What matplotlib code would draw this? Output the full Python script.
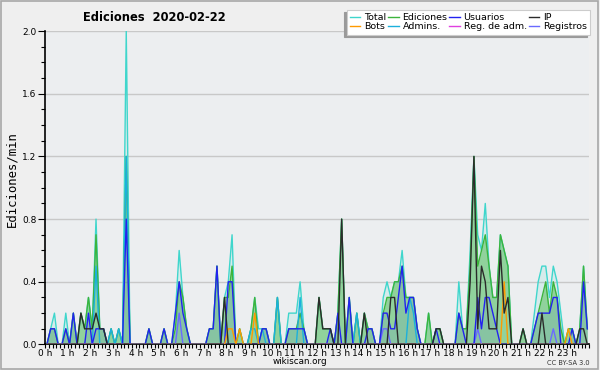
import numpy as np
import matplotlib
matplotlib.use("Agg")
import matplotlib.pyplot as plt
from matplotlib.patches import Rectangle
from matplotlib.ticker import MultipleLocator, FixedLocator

# 10-minute bins, 6 per hour (edits per minute)
total = [
    0, 0.1, 0.2, 0, 0, 0.2,     0, 0.2, 0, 0.2, 0.1, 0.3,
    0.1, 0.8, 0.1, 0.1, 0, 0.1, 0, 0.1, 0, 2.0, 0, 0,
    0, 0, 0, 0.1, 0, 0,         0, 0.1, 0, 0, 0.2, 0.6,
    0.3, 0.1, 0, 0, 0, 0,       0, 0.1, 0.1, 0.5, 0, 0.3,
    0.4, 0.7, 0, 0.1, 0, 0,     0.1, 0.3, 0.1, 0.1, 0.1, 0,
    0, 0.3, 0, 0, 0.2, 0.2,     0.2, 0.4, 0.1, 0, 0, 0,
    0.3, 0.1, 0.1, 0.1, 0, 0.2, 0.8, 0, 0.3, 0, 0.2, 0,
    0.2, 0.1, 0.1, 0, 0, 0.3,   0.4, 0.3, 0.4, 0.4, 0.6, 0.3,
    0.3, 0.3, 0.1, 0, 0, 0.2,   0, 0.1, 0.1, 0, 0, 0,
    0, 0.4, 0.1, 0.1, 0.6, 1.2, 0.7, 0.6, 0.9, 0.5, 0.3, 0.3,
    0.7, 0.6, 0.5, 0, 0, 0,     0.1, 0, 0, 0.2, 0.4, 0.5,
    0.5, 0.3, 0.5, 0.4, 0.2, 0, 0.1, 0.1, 0, 0.1, 0.5, 0.1,
]
ediciones = [
    0, 0.1, 0.1, 0, 0, 0.1,     0, 0.2, 0, 0.2, 0.1, 0.3,
    0.1, 0.7, 0.1, 0.1, 0, 0.1, 0, 0.1, 0, 1.2, 0, 0,
    0, 0, 0, 0.1, 0, 0,         0, 0.1, 0, 0, 0.1, 0.4,
    0.3, 0.1, 0, 0, 0, 0,       0, 0.1, 0.1, 0.5, 0, 0.3,
    0.3, 0.5, 0, 0.1, 0, 0,     0.1, 0.3, 0, 0.1, 0.1, 0,
    0, 0.3, 0, 0, 0.1, 0.1,     0.1, 0.2, 0.1, 0, 0, 0,
    0.3, 0.1, 0.1, 0.1, 0, 0.2, 0.8, 0, 0.3, 0, 0.2, 0,
    0.2, 0.1, 0.1, 0, 0, 0.2,   0.3, 0.3, 0.4, 0.4, 0.5, 0.3,
    0.3, 0.3, 0.1, 0, 0, 0.2,   0, 0.1, 0.1, 0, 0, 0,
    0, 0.2, 0.1, 0.1, 0.5, 1.2, 0.5, 0.6, 0.7, 0.5, 0.3, 0.3,
    0.7, 0.6, 0.5, 0, 0, 0,     0.1, 0, 0, 0.1, 0.2, 0.3,
    0.4, 0.2, 0.4, 0.3, 0.1, 0, 0.1, 0.1, 0, 0.1, 0.5, 0.1,
]
usuarios = [
    0, 0.1, 0.1, 0, 0, 0.1,     0, 0.2, 0, 0, 0, 0.2,
    0, 0.1, 0.1, 0.1, 0, 0,     0, 0, 0, 0.8, 0, 0,
    0, 0, 0, 0.1, 0, 0,         0, 0.1, 0, 0, 0.2, 0.4,
    0.2, 0.1, 0, 0, 0, 0,       0, 0.1, 0.1, 0.5, 0, 0,
    0.4, 0.4, 0, 0, 0, 0,       0, 0, 0, 0.1, 0.1, 0,
    0, 0, 0, 0, 0.1, 0.1,       0.1, 0.1, 0.1, 0, 0, 0,
    0, 0, 0, 0.1, 0, 0.2,       0, 0, 0.3, 0, 0, 0,
    0, 0.1, 0.1, 0, 0, 0.2,     0.2, 0.1, 0.1, 0.3, 0.5, 0.2,
    0.3, 0.3, 0.1, 0, 0, 0,     0, 0.1, 0, 0, 0, 0,
    0, 0.2, 0.1, 0, 0, 0,       0.3, 0.1, 0.3, 0.3, 0.2, 0.1,
    0, 0, 0, 0, 0, 0,           0, 0, 0, 0.1, 0.2, 0.2,
    0.2, 0.2, 0.3, 0.3, 0, 0,   0, 0.1, 0, 0, 0.4, 0.1,
]
ip = [
    0, 0, 0, 0, 0, 0,           0, 0, 0, 0.2, 0.1, 0.1,
    0.1, 0.2, 0.1, 0.1, 0, 0,   0, 0, 0, 0, 0, 0,
    0, 0, 0, 0, 0, 0,           0, 0, 0, 0, 0, 0,
    0, 0, 0, 0, 0, 0,           0, 0, 0, 0, 0, 0.3,
    0, 0, 0, 0, 0, 0,           0, 0, 0, 0, 0, 0,
    0, 0, 0, 0, 0, 0,           0, 0, 0, 0, 0, 0,
    0.3, 0.1, 0.1, 0.1, 0, 0,   0.8, 0, 0, 0, 0, 0,
    0.2, 0, 0, 0, 0, 0,         0, 0.3, 0.3, 0, 0, 0,
    0, 0, 0, 0, 0, 0,           0, 0.1, 0.1, 0, 0, 0,
    0, 0, 0, 0, 0.4, 1.2,       0.1, 0.5, 0.4, 0.1, 0.1, 0.1,
    0.6, 0.2, 0.3, 0, 0, 0,     0.1, 0, 0, 0, 0, 0.2,
    0, 0, 0, 0, 0, 0,           0, 0, 0, 0.1, 0.1, 0,
]
bots = [0.0] * 144
for i, v in [(48, 0.1), (49, 0.1), (51, 0.1), (55, 0.2), (121, 0.4), (138, 0.1)]:
    bots[i] = v
admins = [0.0] * 144
for i, v in [(13, 0.5), (17, 0.1), (19, 0.1), (21, 1.2), (54, 0.1), (55, 0.1),
             (57, 0.1), (61, 0.3), (67, 0.3), (82, 0.2), (96, 0.3), (97, 0.2)]:
    admins[i] = v
reg_adm = [0.0] * 144
registros = [0.0] * 144
for i, v in [(35, 0.2), (89, 0.1), (90, 0.1), (134, 0.1), (114, 0.1)]:
    registros[i] = v

hour_labels = [f"{h} h" for h in range(24)]

names = ["Total", "Bots", "Ediciones", "Admins.", "Usuarios", "Reg. de adm.", "IP", "Registros"]
colors = {
    "Total": "#3fd6cc", "Ediciones": "#3cb43c", "Usuarios": "#2222f0", "IP": "#2b2b2b",
    "Bots": "#ff9a00", "Admins.": "#1cb0dc", "Reg. de adm.": "#e040e0", "Registros": "#6a6aff",
}
series = {
    "Total": total, "Ediciones": ediciones, "Usuarios": usuarios, "IP": ip,
    "Bots": bots, "Admins.": admins, "Reg. de adm.": reg_adm, "Registros": registros,
}

x = (np.arange(144) + 0.5) / 6.0

fig = plt.figure(figsize=(6, 3.7), dpi=100, facecolor="#efefef")
ax = fig.add_axes([0.075, 0.069, 0.907, 0.847])
ax.set_facecolor("#eceef0")

fig.patches.append(Rectangle((0.002, 0.003), 0.995, 0.993, transform=fig.transFigure,
                             fill=False, edgecolor="#a8a8a8", lw=1.2))

ax.fill_between(x, total, color=colors["Total"], alpha=0.12, lw=0)
ax.fill_between(x, ediciones, color=colors["Ediciones"], alpha=0.45, lw=0)
ax.fill_between(x, usuarios, color=colors["Usuarios"], alpha=0.08, lw=0)

handles = {}
for n in ["Total", "Ediciones", "Registros", "Admins.", "Usuarios", "Reg. de adm.", "Bots", "IP"]:
    (h,) = ax.plot(x, series[n], color=colors[n], lw=1.0, zorder=3)
    handles[n] = h

ax.set_xlim(0, 24)
ax.set_ylim(0, 2.0)
ax.xaxis.set_major_locator(FixedLocator(range(24)))
ax.set_xticklabels(hour_labels, fontsize=6.5)
ax.xaxis.set_minor_locator(MultipleLocator(1 / 6))
ax.yaxis.set_minor_locator(MultipleLocator(0.1))
ax.set_yticks(np.arange(0, 2.01, 0.4))
ax.set_yticklabels([f"{v:.1f}" for v in np.arange(0, 2.01, 0.4)], fontsize=6.5)
ax.tick_params(axis="x", which="both", length=3, width=0.8, pad=0)
ax.tick_params(axis="y", which="major", length=5, width=0.8, pad=1)
ax.tick_params(axis="y", which="minor", length=3, width=0.8)
ax.grid(axis="y", which="major", color="#c8c8c8", lw=1.0)
ax.set_axisbelow(True)
for s in ["top", "right"]:
    ax.spines[s].set_visible(False)
for s in ["left", "bottom"]:
    ax.spines[s].set_linewidth(1.2)

fig.text(0.02, 0.515, "Ediciones/min", fontsize=8.8, family="DejaVu Sans Mono",
         rotation=90, ha="center", va="center")
fig.text(0.257, 0.954, "Ediciones  2020-02-22", fontsize=8.3, fontweight="bold",
         ha="center", va="center")
fig.text(0.5, 0.022, "wikiscan.org", fontsize=6.3, ha="center", va="center")
fig.text(0.982, 0.02, "CC BY-SA 3.0", fontsize=4.8, ha="right", va="center", color="#333333")

leg = fig.legend([handles[n] for n in names], names, ncol=4, loc="upper left",
                 bbox_to_anchor=(0.578, 0.973), fontsize=6.8, frameon=True,
                 handlelength=1.1, handletextpad=0.4, columnspacing=0.2,
                 labelspacing=0.0, borderpad=0.35, borderaxespad=0, fancybox=False,
                 shadow={"ox": -1.8, "oy": -1.8, "color": "#9a9a9a", "alpha": 1})
leg.get_frame().set_edgecolor("#cccccc")
leg.get_frame().set_facecolor("white")
leg.get_frame().set_linewidth(0.8)

fig.savefig("out.png", dpi=100, facecolor=fig.get_facecolor())
